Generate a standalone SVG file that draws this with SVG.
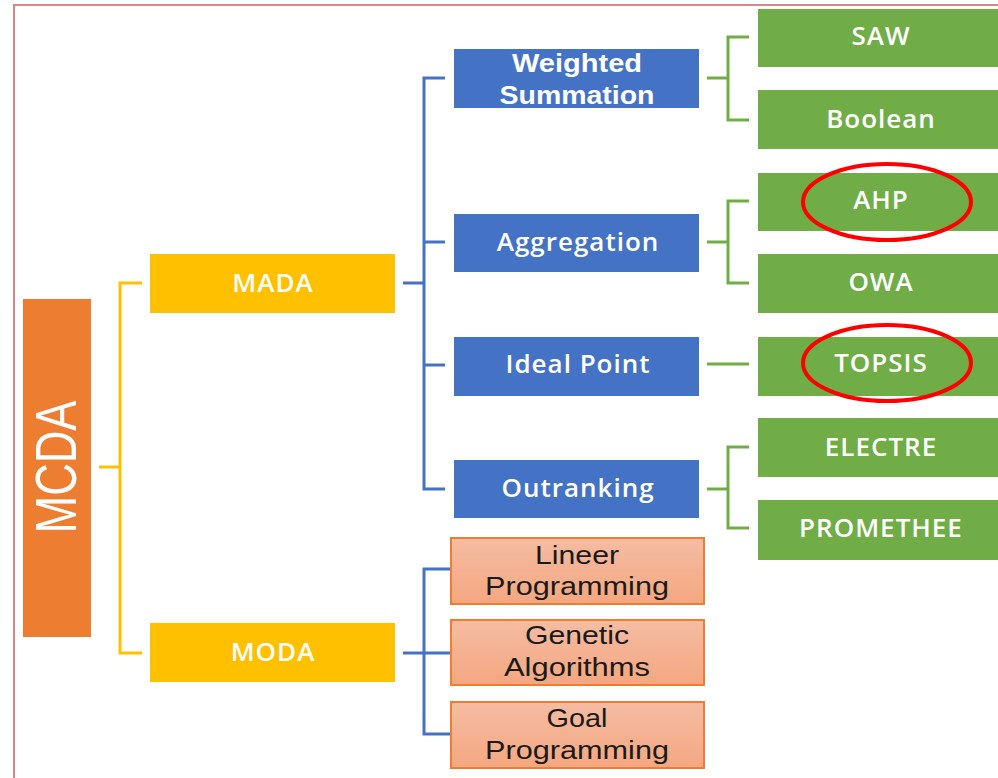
<svg xmlns="http://www.w3.org/2000/svg" width="998" height="778" viewBox="0 0 998 778">
<defs>
<linearGradient id="salmon" x1="0" y1="0" x2="0" y2="1">
<stop offset="0" stop-color="#F5BCA3"/>
<stop offset="1" stop-color="#F4A780"/>
</linearGradient>
</defs>
<style>
.frame{fill:none;stroke:#D9868A;stroke-width:2}
.yel{fill:#FFC000}
.blue{fill:#4472C4}
.green{fill:#70AD47}
.sal{fill:url(#salmon);stroke:#ED7D31;stroke-width:2}
.cy{fill:none;stroke:#FFC000;stroke-width:3}
.cb{fill:none;stroke:#4472C4;stroke-width:3}
.cg{fill:none;stroke:#70AD47;stroke-width:3}
.wt{fill:#FFFFFF;font-family:"Open Sans","Liberation Sans",sans-serif;font-weight:600;font-size:26px;letter-spacing:1px;text-anchor:middle}
.wt2{fill:#FFFFFF;font-family:"Liberation Sans",sans-serif;font-weight:700;font-size:25px;text-anchor:middle}
.dt{fill:#1A1A1A;font-family:"Liberation Sans",sans-serif;font-weight:400;font-size:26px;text-anchor:middle}
.ring{fill:none;stroke:#FF0000;stroke-width:4}
</style>
<rect x="0" y="0" width="998" height="778" fill="#FFFFFF"/>
<path class="frame" d="M14,778 V5 H998"/>
<g id="connectors">
<path class="cy" d="M142,283 H120 V653 H142 M99,467 H120"/>
<path class="cb" d="M403,283 H424 M445,78 H424 V489 H445 M424,242 H445 M424,365 H445"/>
<path class="cb" d="M403,653 H450 M450,569 H424 V734 H450"/>
<path class="cg" d="M707,78 H728 M749,37 H728 V120 H749"/>
<path class="cg" d="M707,242 H728 M749,201 H728 V283 H749"/>
<path class="cg" d="M707,364 H749"/>
<path class="cg" d="M707,489 H728 M749,447 H728 V528 H749"/>
</g>
<g id="mcda">
<rect x="23" y="299" width="68" height="338" fill="#ED7D31"/>
<text transform="translate(76,467) rotate(-90)" x="0" y="0" text-anchor="middle" font-family="'Liberation Sans',sans-serif" font-size="58" fill="#FFFFFF" textLength="133" lengthAdjust="spacingAndGlyphs">MCDA</text>
</g>
<g id="mada">
<rect class="yel" x="150" y="254" width="245" height="59"/>
<text class="wt" x="273" y="292">MADA</text>
</g>
<g id="moda">
<rect class="yel" x="150" y="623" width="245" height="59"/>
<text class="wt" x="273" y="661">MODA</text>
</g>
<g id="weighted-summation">
<rect class="blue" x="454" y="49" width="245" height="59"/>
<text class="wt2" x="577" y="72" textLength="130" lengthAdjust="spacingAndGlyphs">Weighted</text>
<text class="wt2" x="577" y="104" textLength="155" lengthAdjust="spacingAndGlyphs">Summation</text>
</g>
<g id="aggregation">
<rect class="blue" x="454" y="214" width="245" height="58"/>
<text class="wt" x="578" y="251">Aggregation</text>
</g>
<g id="ideal-point">
<rect class="blue" x="454" y="337" width="245" height="59"/>
<text class="wt" x="578" y="373">Ideal Point</text>
</g>
<g id="outranking">
<rect class="blue" x="454" y="460" width="245" height="58"/>
<text class="wt" x="578" y="497">Outranking</text>
</g>
<g id="lineer-programming">
<rect class="sal" x="451" y="538" width="253" height="66"/>
<text class="dt" x="577" y="564" textLength="84" lengthAdjust="spacingAndGlyphs">Lineer</text>
<text class="dt" x="577" y="595" textLength="184" lengthAdjust="spacingAndGlyphs">Programming</text>
</g>
<g id="genetic-algorithms">
<rect class="sal" x="451" y="620" width="253" height="65"/>
<text class="dt" x="577" y="644" textLength="104" lengthAdjust="spacingAndGlyphs">Genetic</text>
<text class="dt" x="577" y="676" textLength="146" lengthAdjust="spacingAndGlyphs">Algorithms</text>
</g>
<g id="goal-programming">
<rect class="sal" x="451" y="702" width="253" height="66"/>
<text class="dt" x="577" y="727" textLength="61" lengthAdjust="spacingAndGlyphs">Goal</text>
<text class="dt" x="577" y="759" textLength="184" lengthAdjust="spacingAndGlyphs">Programming</text>
</g>
<g id="saw">
<rect class="green" x="758" y="9" width="242" height="58"/>
<text class="wt" x="881" y="45">SAW</text>
</g>
<g id="boolean">
<rect class="green" x="758" y="90" width="242" height="59"/>
<text class="wt" x="881" y="128">Boolean</text>
</g>
<g id="ahp">
<rect class="green" x="758" y="173" width="242" height="58"/>
<text class="wt" x="881" y="209">AHP</text>
</g>
<g id="owa">
<rect class="green" x="758" y="254" width="242" height="59"/>
<text class="wt" x="881" y="291">OWA</text>
</g>
<g id="topsis">
<rect class="green" x="758" y="337" width="242" height="59"/>
<text class="wt" x="881" y="372">TOPSIS</text>
</g>
<g id="electre">
<rect class="green" x="758" y="418" width="242" height="59"/>
<text class="wt" x="881" y="456">ELECTRE</text>
</g>
<g id="promethee">
<rect class="green" x="758" y="500" width="242" height="60"/>
<text class="wt" x="881" y="537">PROMETHEE</text>
</g>
<g id="highlights">
<ellipse class="ring" cx="887" cy="202" rx="84" ry="38"/>
<ellipse class="ring" cx="887" cy="363" rx="84" ry="38"/>
</g>
</svg>
